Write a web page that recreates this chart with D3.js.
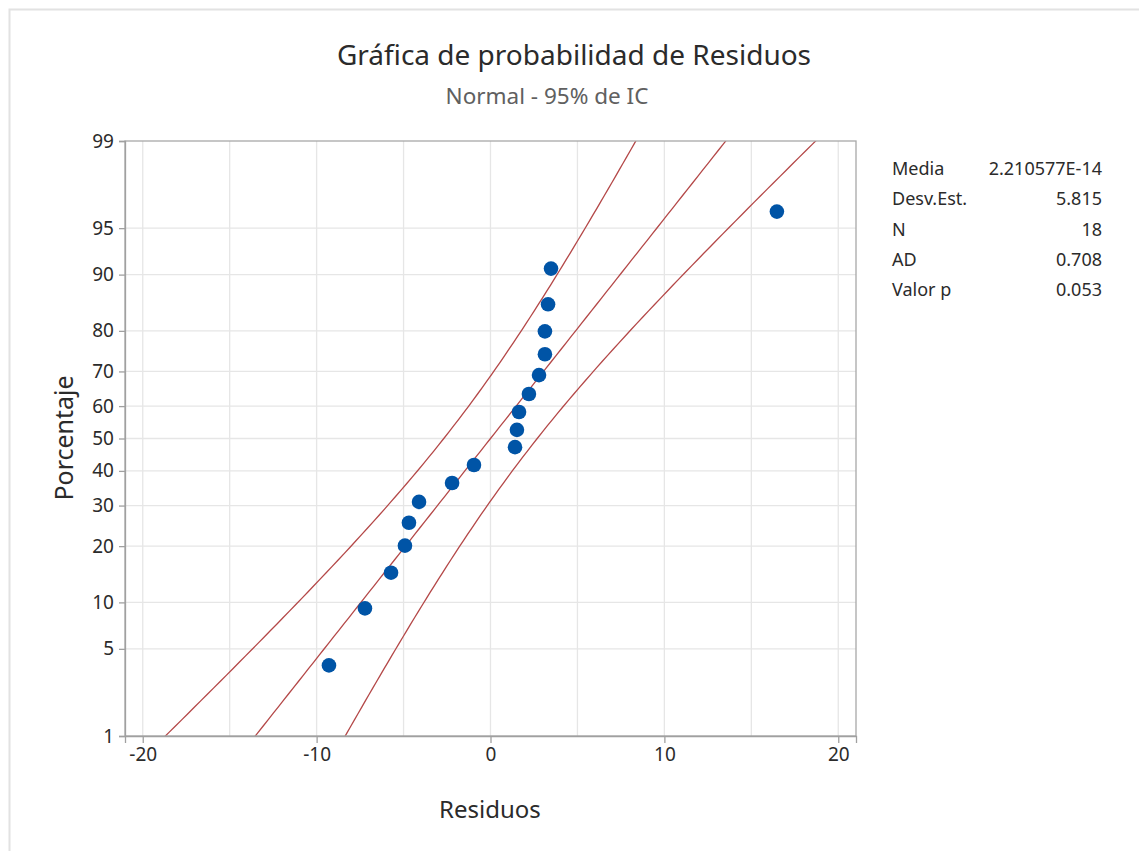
<!DOCTYPE html>
<html>
<head>
<meta charset="utf-8">
<script src="https://cdn.jsdelivr.net/npm/d3@7"></script>
<style>
  body { margin: 0; background: #fff; }
  text { font-family: "Noto Sans", "Open Sans", sans-serif; }
</style>
</head>
<body>
<div id="plot"></div>
<script>
// SVG size
var svgWidth = 1139;
var svgHeight = 851;

// plot area (pixel box of the frame)
var plot = { left: 125, right: 856, top: 141, bottom: 736 };

// Data
var residuals = [-9.29, -7.22, -5.72, -4.92, -4.69, -4.11, -2.21, -0.95, 1.41,
                 1.52, 1.64, 2.21, 2.79, 3.13, 3.13, 3.31, 3.48, 16.47];
var percents = [3.8, 9.2, 14.7, 20.1, 25.5, 31.0, 36.4, 41.8, 47.3,
                52.7, 58.2, 63.6, 69.0, 74.5, 79.9, 85.3, 90.8, 96.2];

// tick labels
var yTicks = [1, 5, 10, 20, 30, 40, 50, 60, 70, 80, 90, 95, 99];
var xTicks = [-20, -10, 0, 10, 20];
var xGrid = [-20, -15, -10, -5, 0, 5, 10, 15, 20];

// summary statistics box
var statLabels = ["Media", "Desv.Est.", "N", "AD", "Valor p"];
var statValues = ["2.210577E-14", "5.815", "18", "0.708", "0.053"];

// fitted normal parameters (from the stats box)
var fitMean = 0;
var fitSd = 5.815;
var fitN = 18;

// inverse normal cdf (Acklam)
function qnorm(p) {
    var a = [-3.969683028665376e+01, 2.209460984245205e+02, -2.759285104469687e+02,
             1.383577518672690e+02, -3.066479806614716e+01, 2.506628277459239e+00];
    var b = [-5.447609879822406e+01, 1.615858368580409e+02, -1.556989798598866e+02,
             6.680131188771972e+01, -1.328068155288572e+01];
    var c = [-7.784894002430293e-03, -3.223964580411365e-01, -2.400758277161838e+00,
             -2.549671010366968e+00, 4.374664141464968e+00, 2.938163982698783e+00];
    var d = [7.784695709041462e-03, 3.224671290700398e-01, 2.445134137142996e+00,
             3.754408661907416e+00];
    var pl = 0.02425, q, r;
    if (p < pl) {
        q = Math.sqrt(-2 * Math.log(p));
        return (((((c[0]*q+c[1])*q+c[2])*q+c[3])*q+c[4])*q+c[5]) /
               ((((d[0]*q+d[1])*q+d[2])*q+d[3])*q+1);
    }
    if (p > 1 - pl) {
        q = Math.sqrt(-2 * Math.log(1 - p));
        return -(((((c[0]*q+c[1])*q+c[2])*q+c[3])*q+c[4])*q+c[5]) /
                ((((d[0]*q+d[1])*q+d[2])*q+d[3])*q+1);
    }
    q = p - 0.5;
    r = q * q;
    return (((((a[0]*r+a[1])*r+a[2])*r+a[3])*r+a[4])*r+a[5])*q /
           (((((b[0]*r+b[1])*r+b[2])*r+b[3])*r+b[4])*r+1);
}

var svg = d3.select("#plot")
    .append("svg")
    .attr("width", svgWidth)
    .attr("height", svgHeight);

// faint border of the figure window
svg.append("path")
    .attr("d", "M9.5," + svgHeight + "V9.5H" + svgWidth)
    .attr("fill", "none")
    .attr("stroke", "#e2e2e2")
    .attr("stroke-width", 2);

// scales
var xScale = d3.scaleLinear()
    .domain([-21.02, 21.02])
    .range([plot.left, plot.right]);

// probability axis: linear in normal z
var zScale = d3.scaleLinear()
    .domain([qnorm(0.01), qnorm(0.99)])
    .range([plot.bottom, plot.top]);
var yScale = function (pct) { return zScale(qnorm(pct / 100)); };

// gridlines
svg.append("g").selectAll("line")
    .data(xGrid)
    .enter()
    .append("line")
    .attr("x1", d => xScale(d)).attr("x2", d => xScale(d))
    .attr("y1", plot.top).attr("y2", plot.bottom)
    .attr("stroke", "#e6e6e6").attr("stroke-width", 1.3);

svg.append("g").selectAll("line")
    .data(yTicks.slice(1, -1))
    .enter()
    .append("line")
    .attr("x1", plot.left).attr("x2", plot.right)
    .attr("y1", d => yScale(d)).attr("y2", d => yScale(d))
    .attr("stroke", "#e6e6e6").attr("stroke-width", 1.3);

// clip for fitted lines
svg.append("clipPath").attr("id", "clip")
    .append("rect")
    .attr("x", plot.left).attr("y", plot.top)
    .attr("width", plot.right - plot.left)
    .attr("height", plot.bottom - plot.top);

// fitted line and 95% bands
var zs = d3.range(-2.5, 2.501, 0.05);
var zc = 1.959964;
function pctLine(k) {
    return zs.map(function (z) {
        var se = fitSd * Math.sqrt((1 + z * z / 2) / fitN);
        return [xScale(fitMean + fitSd * z + k * zc * se), zScale(z)];
    });
}
var line = d3.line();
var lineGroup = svg.append("g").attr("clip-path", "url(#clip)");
[-1, 0, 1].forEach(function (k) {
    lineGroup.append("path")
        .attr("d", line(pctLine(k)))
        .attr("fill", "none")
        .attr("stroke", "#b44848")
        .attr("stroke-width", 1.3);
});

// frame
svg.append("rect")
    .attr("x", plot.left).attr("y", plot.top)
    .attr("width", plot.right - plot.left)
    .attr("height", plot.bottom - plot.top)
    .attr("fill", "none")
    .attr("stroke", "#a8a8a8")
    .attr("stroke-width", 1.3);

// axes
var bottomAxis = d3.axisBottom(xScale)
    .tickValues(xTicks)
    .tickFormat(d => String(d))
    .tickSize(7).tickPadding(5);
var xAxis = svg.append("g")
    .attr("transform", `translate(0, ${plot.bottom})`)
    .call(bottomAxis);

var leftAxis = d3.axisLeft(zScale)
    .tickValues(yTicks.map(d => qnorm(d / 100)))
    .tickFormat((d, i) => yTicks[i])
    .tickSize(6).tickPadding(5);
var yAxis = svg.append("g")
    .attr("transform", `translate(${plot.left}, 0)`)
    .call(leftAxis);

[xAxis, yAxis].forEach(function (ax) {
    ax.select(".domain").attr("stroke", "#a0a0a0").attr("stroke-width", 1.3);
    ax.selectAll(".tick line").attr("stroke", "#a0a0a0").attr("stroke-width", 1.3);
    ax.selectAll(".tick text")
        .attr("fill", "#2b2b2b")
        .style("font-size", "19px")
        .style("font-family", "'Noto Sans', sans-serif");
});

// points
svg.append("g").selectAll("circle")
    .data(residuals)
    .enter()
    .append("circle")
    .attr("cx", d => xScale(d))
    .attr("cy", (d, i) => yScale(percents[i]))
    .attr("r", 7.3)
    .attr("fill", "#0054a6");

// titles
svg.append("text")
    .attr("x", 574).attr("y", 65)
    .attr("text-anchor", "middle")
    .attr("fill", "#2b2b2b")
    .style("font-size", "28px")
    .text("Gráfica de probabilidad de Residuos");

svg.append("text")
    .attr("x", 547).attr("y", 104)
    .attr("text-anchor", "middle")
    .attr("fill", "#606060")
    .style("font-size", "22.5px")
    .text("Normal - 95% de IC");

// axis labels
svg.append("text")
    .attr("x", 490).attr("y", 818)
    .attr("text-anchor", "middle")
    .attr("fill", "#2b2b2b")
    .style("font-size", "24px")
    .text("Residuos");

svg.append("text")
    .attr("transform", "translate(73, 438) rotate(-90)")
    .attr("text-anchor", "middle")
    .attr("fill", "#2b2b2b")
    .style("font-size", "25px")
    .text("Porcentaje");

// stats box
var statGroup = svg.append("g");
statLabels.forEach(function (lab, i) {
    var yy = 175 + i * 30.3;
    statGroup.append("text")
        .attr("x", 892).attr("y", yy)
        .attr("fill", "#2b2b2b")
        .style("font-size", "18px")
        .text(lab);
    statGroup.append("text")
        .attr("x", 1102).attr("y", yy)
        .attr("text-anchor", "end")
        .attr("fill", "#2b2b2b")
        .style("font-size", "18px")
        .text(statValues[i]);
});
</script>
</body>
</html>
